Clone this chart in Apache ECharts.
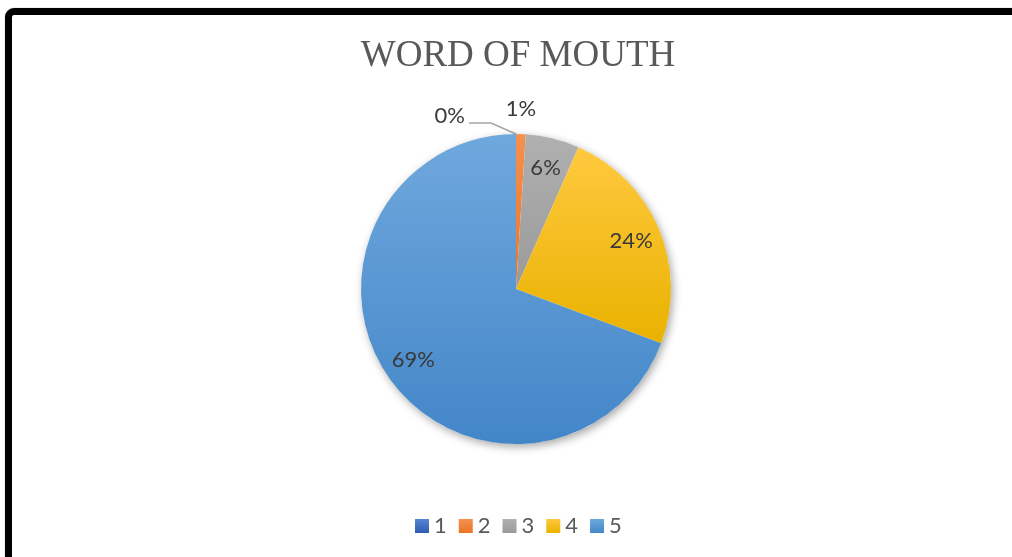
<!DOCTYPE html>
<html>
<head>
<meta charset="utf-8">
<title>WORD OF MOUTH</title>
<script src="https://cdn.jsdelivr.net/npm/echarts@6/dist/echarts.min.js"></script>
<style>
  html, body { margin: 0; padding: 0; background: #fff; overflow: hidden; }
  #chart { position: absolute; left: 0; top: 0; width: 1012px; height: 557px; }
  /* chart frame: only its top and left edges fall inside the window */
  #frame {
    position: absolute; left: 5px; top: 8px; right: -40px; bottom: -40px;
    border: 7px solid #000; border-radius: 9px; pointer-events: none;
    box-shadow: 0 0 1px #666;
  }
</style>
</head>
<body>
<div id="chart"></div>
<div id="frame"></div>
<script>
// Rating scale and share of answers for "word of mouth"
const categories = ['1', '2', '3', '4', '5'];
const values = [0, 1, 5.6, 24.1, 69.3];
const titleText = 'WORD OF MOUTH';

// Office-style fills: light at the top, darker at the bottom
const fills = [
  ['#5585d6', '#2f5cb0'],
  ['#f4914f', '#ec7425'],
  ['#b0b0b0', '#9a9a9a'],
  ['#ffc93f', '#e9b200'],
  ['#6fa8dd', '#4386c8']
];

const PIE_CENTER = [516, 289];
const PIE_R = 155;
const LABEL_R = 122; // distance of the inside labels from the centre

function grad(c) {
  return new echarts.graphic.LinearGradient(0, 0, 0, 1, [
    { offset: 0, color: c[0] },
    { offset: 1, color: c[1] }
  ]);
}

const labelFont = { fontFamily: 'Lato', fontSize: 22, color: '#3a3a3a' };
const outsideIdx = [0, 1];

const mainData = categories.map((name, i) => ({
  name: name,
  value: values[i],
  itemStyle: { color: grad(fills[i]) },
  label: { show: outsideIdx.indexOf(i) >= 0 },
  labelLine: { show: i === 0 }
}));

const labelData = categories.map((name, i) => ({
  name: name,
  value: values[i],
  label: { show: outsideIdx.indexOf(i) < 0 }
}));

const chart = echarts.init(document.getElementById('chart'), null, { renderer: 'canvas' });

chart.setOption({
  animation: false,
  backgroundColor: '#fff',
  title: {
    text: titleText,
    left: 513,
    textAlign: 'center',
    top: 33,
    textStyle: { fontFamily: 'Liberation Serif', fontSize: 37, fontWeight: 'normal', color: '#595959' }
  },
  legend: {
    data: categories,
    left: 410,
    top: 510,
    icon: 'rect',
    itemWidth: 14,
    itemHeight: 14,
    itemGap: 12,
    selectedMode: false,
    textStyle: { fontFamily: 'Lato', fontSize: 22, color: '#595959' }
  },
  series: [
    {
      // soft drop shadow under the whole pie
      type: 'pie',
      silent: true,
      center: PIE_CENTER,
      radius: PIE_R,
      label: { show: false },
      labelLine: { show: false },
      itemStyle: {
        color: '#fff',
        shadowBlur: 9,
        shadowOffsetX: 2,
        shadowOffsetY: 3,
        shadowColor: 'rgba(0,0,0,0.35)'
      },
      data: [{ value: values.reduce((a, b) => a + b, 0), name: 'all' }]
    },
    {
      type: 'pie',
      center: PIE_CENTER,
      radius: PIE_R,
      startAngle: 90,
      clockwise: true,
      percentPrecision: 0,
      avoidLabelOverlap: false,
      emphasis: { disabled: true },
      itemStyle: { borderWidth: 0 },
      label: Object.assign({ position: 'outside', formatter: '{d}%' }, labelFont),
      labelLine: { lineStyle: { color: '#a6a6a6', width: 1.5 } },
      labelLayout: function (p) {
        const r = p.rect;
        if (p.dataIndex === 0) {
          const ax = r.x, ay = r.y;
          return {
            x: ax - 51, y: ay - 18,
            align: 'right', verticalAlign: 'middle',
            labelLinePoints: [[ax, ay], [ax - 25, ay - 11], [ax - 47, ay - 11]]
          };
        }
        if (p.dataIndex === 1) {
          return {
            x: r.x + r.width / 2, y: r.y - 25,
            align: 'center', verticalAlign: 'middle'
          };
        }
      },
      data: mainData
    },
    {
      // transparent twin used to place the inside percentage labels
      type: 'pie',
      silent: true,
      center: PIE_CENTER,
      radius: LABEL_R * 2,
      startAngle: 90,
      clockwise: true,
      percentPrecision: 0,
      itemStyle: { color: 'rgba(0,0,0,0)' },
      label: Object.assign({ position: 'inside', formatter: '{d}%' }, labelFont),
      labelLine: { show: false },
      data: labelData
    }
  ]
});
</script>
</body>
</html>
